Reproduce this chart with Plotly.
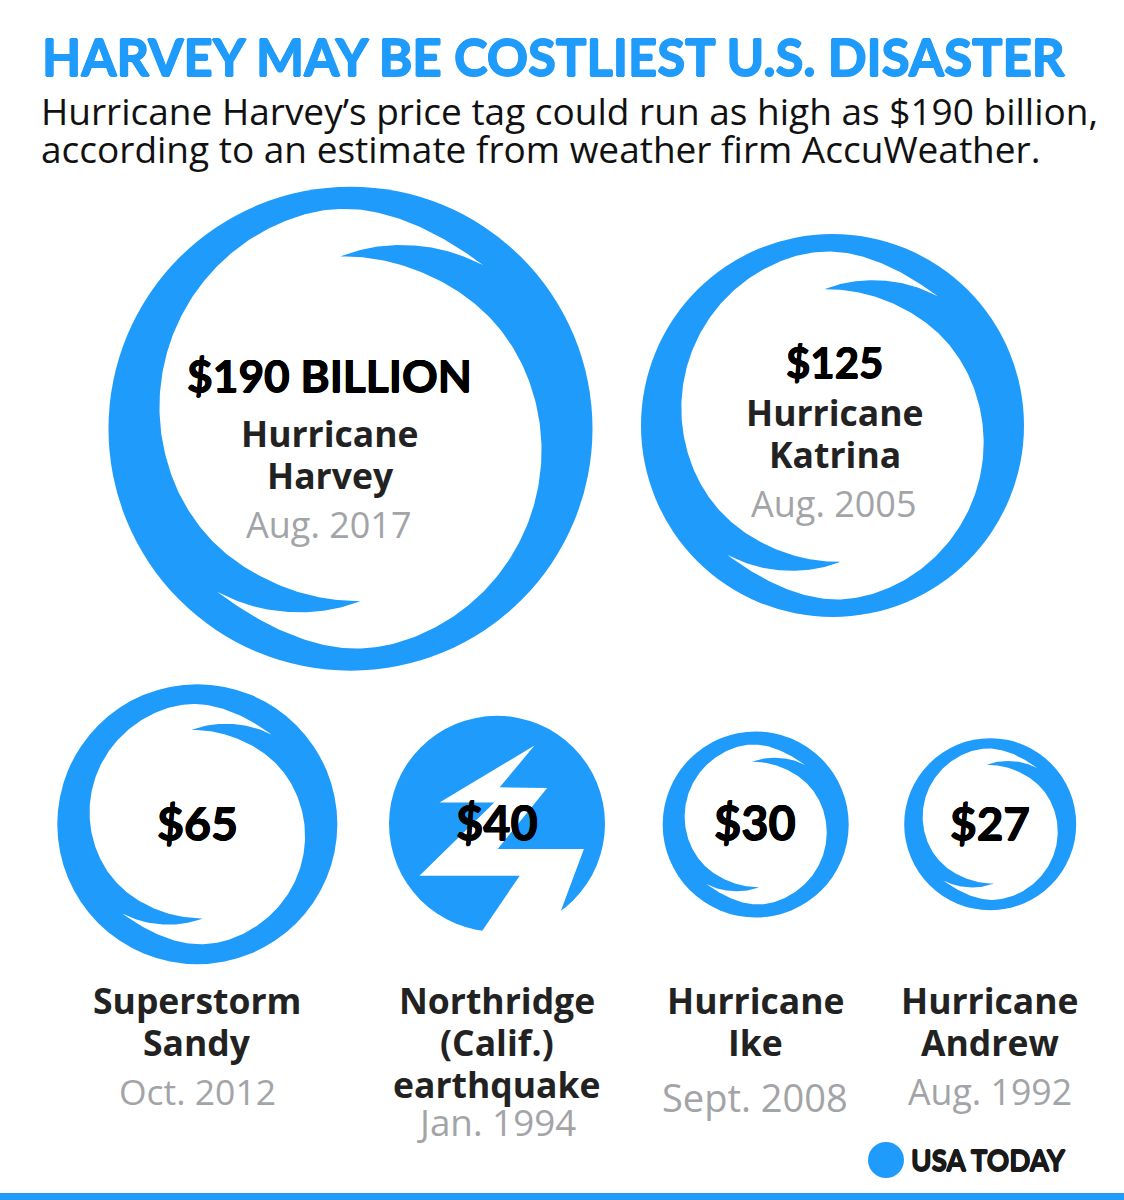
import numpy as np
import plotly.graph_objects as go

# ---------- data ----------
event_names = ["Hurricane Harvey", "Hurricane Katrina", "Superstorm Sandy",
               "Northridge (Calif.) earthquake", "Hurricane Ike", "Hurricane Andrew"]
cost_billions = [190, 125, 65, 40, 30, 27]
cost_labels = ["$190 BILLION", "$125", "$65", "$40", "$30", "$27"]
event_dates = ["Aug. 2017", "Aug. 2005", "Oct. 2012", "Jan. 1994", "Sept. 2008", "Aug. 1992"]
name_lines = [["Hurricane", "Harvey"], ["Hurricane", "Katrina"], ["Superstorm", "Sandy"],
              ["Northridge", "(Calif.)", "earthquake"], ["Hurricane", "Ike"], ["Hurricane", "Andrew"]]

# ---------- layout constants (page pixels) ----------
W, H = 1124, 1200
BLUE = "#1E9BFB"
center_x = [350.5, 832.5, 197.3, 497, 755.7, 990.2]
center_y = [428.7, 425.5, 824.2, 823.8, 824.5, 824.2]
diameter = [484, 383, 280, 216, 186, 172]
inner_sx = [1.0, 1.0, 0.975, 0, 0.968, 0.995]
inner_sy = [1.0, 1.0, 0.945, 0, 0.947, 0.969]

cost_x = [329, 834, 197, 497, 755, 990]
cost_y = [374, 362, 822, 822, 822, 822]
cost_size = [44.3, 42, 46.5, 47, 47, 46]
name_x = [330, 835, 197, 497, 755.5, 990]
name_y = [[433, 475], [412, 454], [1000, 1042], [1000, 1042, 1084], [1000, 1042], [1000, 1042]]
date_x = [329, 834, 197, 496, 755, 990]
date_y = [524, 503, 1091, 1122, 1097, 1091]
date_size = [36, 36, 35.5, 36.8, 38, 35.7]

# Swirl edge in polar form, in pixels of a 725-radius disc: (angle in degrees, radius)
edge_a = [(-50.8, 631), (-56.4, 629), (-61.8, 631), (-67, 635), (-71.9, 640), (-76.7, 645),
          (-81.3, 651.5), (-85.8, 656), (-90.1, 659), (-94.5, 660), (-98.9, 659), (-103.4, 656),
          (-118, 642.6), (-133, 625.5), (-148, 607), (-162, 589.5), (-176, 573), (-190, 558),
          (-205, 545), (-215, 537), (-225, 528), (-235, 520), (-241, 516), (-253, 513),
          (-264.6, 514), (-273.3, 517)]
edge_e = [(-273.3, 517), (-268, 533), (-262.8, 548), (-257.8, 562), (-253, 575), (-248.2, 588),
          (-243.5, 601), (-238.7, 613), (-233.8, 624), (-230.8, 631)]
bolt = [(462, 108), (178, 278), (342, 278), (118, 497), (418, 497), (305, 663), (305, 690),
        (540, 690), (540, 605), (610, 417), (352, 417), (500, 235), (358, 233), (462, 108)]


def polar_curve(pts, n=240, win=13):
    p = np.array(pts, float)
    ang = np.linspace(p[0, 0], p[-1, 0], n)
    order = np.argsort(p[:, 0])
    r = np.interp(ang, p[order, 0], p[order, 1])
    pad = win // 2
    padded = np.concatenate([2 * r[0] - r[pad:0:-1], r, 2 * r[-1] - r[-2:-pad - 2:-1]])
    r = np.convolve(padded, np.ones(win) / win, mode="valid")
    rad = np.radians(ang)
    return np.column_stack([r * np.cos(rad), r * np.sin(rad)]) / 725


def swirl_outline():
    half = np.vstack([polar_curve(edge_a), polar_curve(edge_e, 80, 5)[1:]])
    return np.vstack([half, -half[1:]])


fig = go.Figure()

# blue discs
fig.add_trace(go.Scatter(x=center_x, y=center_y, mode="markers", hoverinfo="skip",
                         marker=dict(color=BLUE, opacity=1, size=diameter, sizemode="diameter",
                                     line=dict(width=0))))

# white swirl interiors / bolt
outline = swirl_outline()
for i in range(len(cost_billions)):
    r = diameter[i] / 2
    if i == 3:
        b = np.array(bolt, float)
        xs = center_x[i] + (b[:, 0] - 350) / 323 * r
        ys = center_y[i] + (b[:, 1] - 342) / 323 * r
    else:
        xs = center_x[i] + outline[:, 0] * r * inner_sx[i]
        ys = center_y[i] + outline[:, 1] * r * inner_sy[i]
    fig.add_trace(go.Scatter(x=xs, y=ys, mode="lines", fill="toself", fillcolor="white",
                             line=dict(width=0, color="white"), hoverinfo="skip"))

# logo dot
fig.add_trace(go.Scatter(x=[886], y=[1160], mode="markers", hoverinfo="skip",
                         marker=dict(color=BLUE, opacity=1, size=36, line=dict(width=0))))

LATO = "Lato, sans-serif"
OPEN = "Open Sans, sans-serif"


def bold_shadow(color, d):
    return f"{d}px 0 0 {color}, -{d}px 0 0 {color}, 0 {d}px 0 {color}, 0 -{d}px 0 {color}"


def note(x, y, text, size, color, family, weight=400, anchor="center", heavy=0):
    font = dict(family=family, size=size, color=color, weight=weight)
    if heavy:
        font["shadow"] = bold_shadow(color, heavy)
    fig.add_annotation(x=x, y=y, xref="x", yref="y", text=text, showarrow=False, xanchor=anchor,
                       yanchor="middle", align=anchor, borderpad=0, font=font)


note(41, 56, "HARVEY MAY BE COSTLIEST U.S. DISASTER", 50.9, BLUE, LATO, 700, "left", 0.8)
note(40, 110, "Hurricane Harvey’s price tag could run as high as $190 billion,", 37, "#111111", OPEN, 400, "left")
note(40, 148, "according to an estimate from weather firm AccuWeather.", 37, "#111111", OPEN, 400, "left")

for i in range(len(cost_billions)):
    note(cost_x[i], cost_y[i], cost_labels[i], cost_size[i], "#000000", LATO, 700, "center", 0.5)
    for line, y in zip(name_lines[i], name_y[i]):
        note(name_x[i], y, line, 35.5, "#222222", OPEN, 700)
    note(date_x[i], date_y[i], event_dates[i], date_size[i], "#A2A4A7", OPEN, 400)

note(910, 1160, "USA TODAY", 27.8, "#1A1A1A", LATO, 700, "left", 0.6)

fig.add_shape(type="rect", x0=0, x1=W, y0=1193, y1=1200, xref="x", yref="y",
              fillcolor=BLUE, line=dict(width=0), layer="above")

fig.update_layout(width=W, height=H, margin=dict(l=0, r=0, t=0, b=0), showlegend=False,
                  paper_bgcolor="white", plot_bgcolor="white",
                  xaxis=dict(range=[0, W], visible=False, fixedrange=True),
                  yaxis=dict(range=[H, 0], visible=False, fixedrange=True))
fig.write_html("out.html", config=dict(displayModeBar=False),
               post_script="document.body.style.margin='0';document.documentElement.style.overflow='hidden';")
